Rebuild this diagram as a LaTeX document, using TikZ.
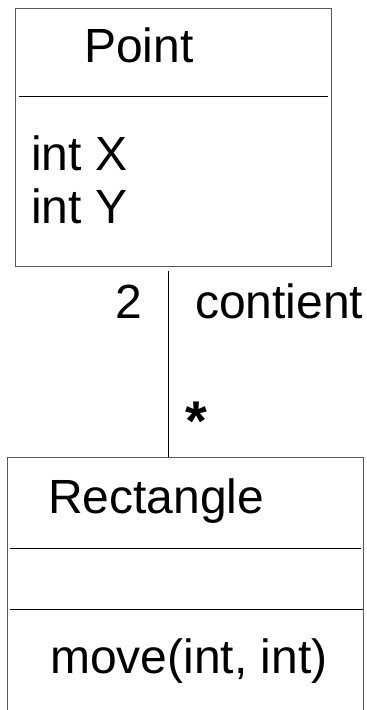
\documentclass[tikz,border=0pt]{standalone}
\usepackage{fontspec}
\setmainfont{Liberation Sans}
\begin{document}
\begin{tikzpicture}[x=1pt,y=-1pt,
  classbox/.style={draw=black!65,line width=1pt,fill=none,inner sep=0pt},
  divider/.style={draw=black,line width=1pt},
  assoc/.style={draw=black,line width=1pt},
  lbl/.style={inner sep=0pt,anchor=base west,font=\fontsize{48}{58}\selectfont},
  star/.style={inner sep=0pt,anchor=base west,font=\fontsize{56}{66}\selectfont\bfseries}]
\useasboundingbox (0,0) rectangle (367,710);
\clip (0,0) rectangle (367,710);
% Point class
\node[classbox,minimum width=316pt,minimum height=258pt] (point) at (173,137) {};
\coordinate (pd1l) at (19,96);
\coordinate (pd1r) at (328,96);
\draw[divider] (pd1l) -- (pd1r);
\node[lbl] (pname) at (84,62) {Point};
\node[lbl] (px) at (31,170) {int X};
\node[lbl] (py) at (31,223) {int Y};
% Rectangle class
\node[classbox,minimum width=356pt,minimum height=303pt] (rect) at (185,608.5) {};
\coordinate (rd1l) at (10,548);
\coordinate (rd1r) at (361,548);
\coordinate (rd2l) at (10,609);
\coordinate (rd2r) at (363,609);
\draw[divider] (rd1l) -- (rd1r);
\draw[divider] (rd2l) -- (rd2r);
\node[lbl] (rname) at (48,513) {Rectangle};
\node[lbl] (rmove) at (50,673) {move(int, int)};
% association
\coordinate (cx) at (168,0);
\draw[assoc] ([yshift=-4pt]point.south -| cx) -- (rect.north -| cx);
\node[lbl] (mult1) at (115.5,318) {2};
\node[lbl] (aname) at (195,318) {contient};
\node[star] (mult2) at (185.5,440) {*};
\end{tikzpicture}
\end{document}
